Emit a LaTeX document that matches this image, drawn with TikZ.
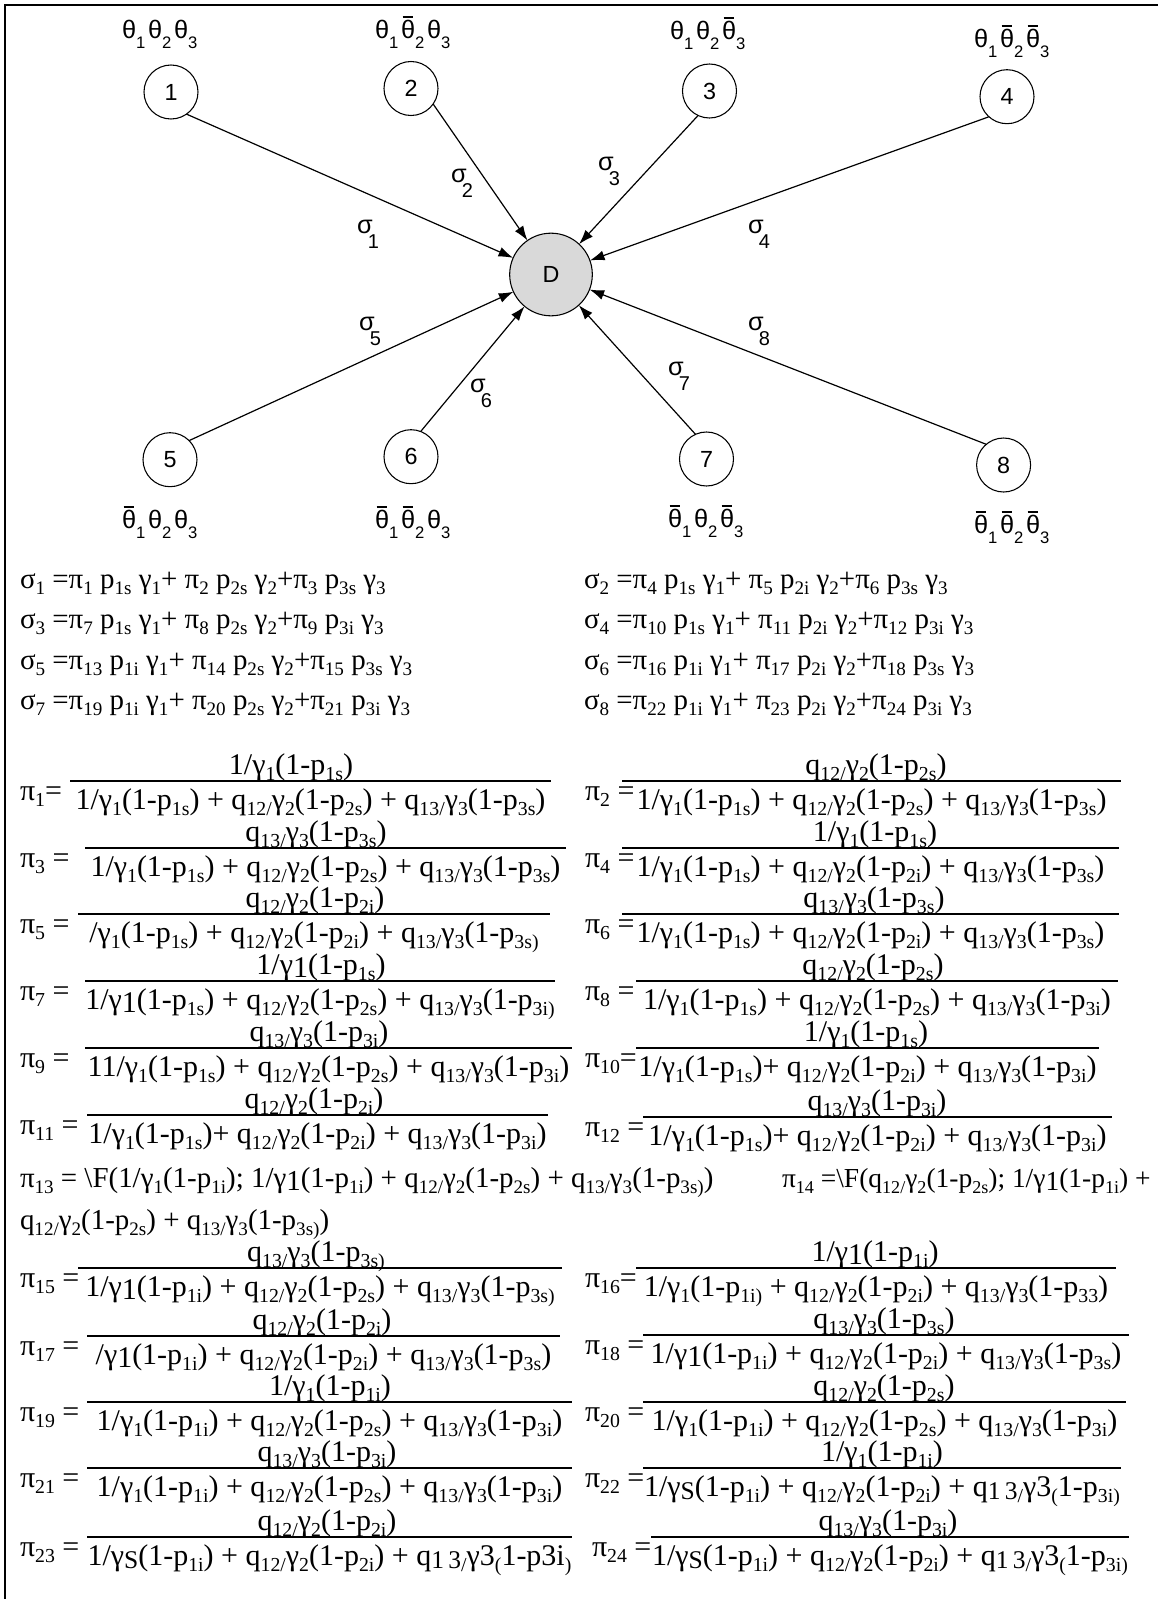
\documentclass[tikz,border=0pt]{standalone}
\usepackage{fontspec}
\setmainfont{Liberation Serif}
\newfontfamily\arialf{Liberation Sans}
\usepackage{graphicx}
\usetikzlibrary{arrows.meta,shapes.geometric}

% subscripts and odd-size glyphs of the equations
\newcommand\lo[1]{\raisebox{-0.22em}{\scalebox{0.66}{#1}}}
\newcommand\loo[1]{\raisebox{-0.12em}{#1}}
\newcommand\md[1]{\raisebox{-0.12em}{\scalebox{0.85}{#1}}}
\newcommand\Ga[1]{1/γ\lo{1}(1-p\lo{1#1})}
\newcommand\GA[1]{1/γ\loo{1}(1-p\lo{1#1})}
\newcommand\Gb[1]{q\lo{12/}γ\lo{2}(1-p\lo{2#1})}
\newcommand\Gc[1]{q\lo{13/}γ\lo{3}(1-p\lo{3#1})}
\newcommand\Gs{1/γ\md{S}(1-p\lo{1i})}
\newcommand\Gx{q\md{1\,3}\lo{/}γ3\lo{(}1-p3i\lo{)}}
\newcommand\Gy{q\md{1\,3}\lo{/}γ3\lo{(}1-p\lo{3i}\lo{)}}
% diagram labels
\newcommand\ts[1]{\raisebox{-7.5pt}{\fontsize{12.5}{12.5}\selectfont #1}}
\newcommand\tb{\leavevmode\rlap{\hspace{0.06em}\rule[0.78em]{0.42em}{0.09em}}θ}
\newcommand\sg[1]{σ\hspace{-3.5pt}\raisebox{-11.25pt}{\fontsize{15}{15}\selectfont #1}}
% fraction: name, label x, line y, x1, x2, label, numerator, denominator, numerator centre x
\newcommand\frc[9]{%
  \node[eq,anchor=base west] (#1l) at ({#2},{#3+19}) {#6};
  \draw[fl] ({#4},{#3}) -- ({#5},{#3});
  \node[eq,anchor=base] (#1n) at ({#9},{#3-7}) {#7};
  \node[eq,anchor=base] (#1d) at ({(#4+#5)/2},{#3+28}) {#8};}

\begin{document}
\begin{tikzpicture}[x=0.75pt,y=-0.75pt,
  every node/.style={inner sep=0pt,outer sep=0pt},
  eq/.style={font=\fontsize{22.5}{26}\selectfont},
  eqs/.style={font=\fontsize{21.7}{25}\selectfont},
  dg/.style={font=\arialf\fontsize{19}{22}\selectfont},
  state/.style={circle,draw,line width=0.8pt,minimum size=40.5pt,
    font=\arialf\fontsize{17.5}{20}\selectfont},
  dest/.style={circle,draw,line width=0.8pt,fill=black!15,
    minimum size=62pt,font=\arialf\fontsize{17.5}{20}\selectfont},
  arr/.style={line width=0.9pt,-{Latex[length=11pt,width=7.5pt]}},
  fl/.style={line width=0.8pt}]
\useasboundingbox (0,0) rectangle (1158,1599);
\draw[line width=1.8pt] (5,1599) -- (5,5) -- (1158,5);

% states
\node[state] (n1) at (171,92) {1};
\node[state] (n2) at (411,88.5) {2};
\node[state] (n3) at (709.5,91) {3};
\node[state] (n4) at (1007,96.7) {4};
\node[state] (n5) at (170,459.7) {5};
\node[state] (n6) at (411,456.7) {6};
\node[state] (n7) at (706.5,459) {7};
\node[state] (n8) at (1003.6,465) {8};
\node[dest] (D) at (551,274.5) {D};

% state labels
\node[dg,anchor=base west] (t1) at (122,38) {θ\ts{1}\hspace{2pt}θ\ts{2}\hspace{2pt}θ\ts{3}};
\node[dg,anchor=base west] (t2) at (375,38) {θ\ts{1}\hspace{2pt}\tb\ts{2}\hspace{2pt}θ\ts{3}};
\node[dg,anchor=base west] (t3) at (670,39) {θ\ts{1}\hspace{2pt}θ\ts{2}\hspace{2pt}\tb\ts{3}};
\node[dg,anchor=base west] (t4) at (974,47) {θ\ts{1}\hspace{2pt}\tb\ts{2}\hspace{2pt}\tb\ts{3}};
\node[dg,anchor=base west] (t5) at (122,528) {\tb\ts{1}\hspace{2pt}θ\ts{2}\hspace{2pt}θ\ts{3}};
\node[dg,anchor=base west] (t6) at (375,528) {\tb\ts{1}\hspace{2pt}\tb\ts{2}\hspace{2pt}θ\ts{3}};
\node[dg,anchor=base west] (t7) at (668,527) {\tb\ts{1}\hspace{2pt}θ\ts{2}\hspace{2pt}\tb\ts{3}};
\node[dg,anchor=base west] (t8) at (974,533) {\tb\ts{1}\hspace{2pt}\tb\ts{2}\hspace{2pt}\tb\ts{3}};

% connectors
\draw[arr] (n1.-55) -- (D);
\draw[arr] (n2.-35) -- (D);
\draw[arr] (n3.-115) -- (D);
\draw[arr] (n4.-132) -- (D);
\draw[arr] (n5.45) -- (D);
\draw[arr] (n6.69) -- (D);
\draw[arr] (n7.114) -- (D);
\draw[arr] (n8.130) -- (D);

% connector labels
\node[dg,anchor=base west] (s1) at (357,233) {\sg{1}};
\node[dg,anchor=base west] (s2) at (451,182) {\sg{2}};
\node[dg,anchor=base west] (s3) at (598,170) {\sg{3}};
\node[dg,anchor=base west] (s4) at (748,233) {\sg{4}};
\node[dg,anchor=base west] (s5) at (359,330) {\sg{5}};
\node[dg,anchor=base west] (s6) at (470,392) {\sg{6}};
\node[dg,anchor=base west] (s7) at (668,375) {\sg{7}};
\node[dg,anchor=base west] (s8) at (748,330) {\sg{8}};

% sigma equations
\node[eqs,anchor=base west] (e1) at (20,588) {σ\lo{1} =π\lo{1} p\lo{1s} γ\lo{1}+ π\lo{2} p\lo{2s} γ\lo{2}+π\lo{3} p\lo{3s} γ\lo{3}};
\node[eqs,anchor=base west] (e2) at (584,588) {σ\lo{2} =π\lo{4} p\lo{1s} γ\lo{1}+ π\lo{5} p\lo{2i} γ\lo{2}+π\lo{6} p\lo{3s} γ\lo{3}};
\node[eqs,anchor=base west] (e3) at (20,628.5) {σ\lo{3} =π\lo{7} p\lo{1s} γ\lo{1}+ π\lo{8} p\lo{2s} γ\lo{2}+π\lo{9} p\lo{3i} γ\lo{3}};
\node[eqs,anchor=base west] (e4) at (584,628.5) {σ\lo{4} =π\lo{10} p\lo{1s} γ\lo{1}+ π\lo{11} p\lo{2i} γ\lo{2}+π\lo{12} p\lo{3i} γ\lo{3}};
\node[eqs,anchor=base west] (e5) at (20,669) {σ\lo{5} =π\lo{13} p\lo{1i} γ\lo{1}+ π\lo{14} p\lo{2s} γ\lo{2}+π\lo{15} p\lo{3s} γ\lo{3}};
\node[eqs,anchor=base west] (e6) at (584,669) {σ\lo{6} =π\lo{16} p\lo{1i} γ\lo{1}+ π\lo{17} p\lo{2i} γ\lo{2}+π\lo{18} p\lo{3s} γ\lo{3}};
\node[eqs,anchor=base west] (e7) at (20,709.5) {σ\lo{7} =π\lo{19} p\lo{1i} γ\lo{1}+ π\lo{20} p\lo{2s} γ\lo{2}+π\lo{21} p\lo{3i} γ\lo{3}};
\node[eqs,anchor=base west] (e8) at (584,709.5) {σ\lo{8} =π\lo{22} p\lo{1i} γ\lo{1}+ π\lo{23} p\lo{2i} γ\lo{2}+π\lo{24} p\lo{3i} γ\lo{3}};

% pi fractions, left column
\frc{pa}{20}{781}{70}{551}{π\lo{1}=}{\Ga{s}}{\Ga{s} + \Gb{s} + \Gc{s}}{291}
\frc{pc}{20}{848}{85}{566}{π\lo{3} =}{\Gc{s}}{\Ga{s} + \Gb{s} + \Gc{s}}{316}
\frc{pe}{20}{914}{78}{550}{π\lo{5} =}{\Gb{i}}{/γ\lo{1}(1-p\lo{1s}) + \Gb{i} + q\lo{13/}γ\lo{3}(1-p\lo{3s}\lo{)}}{315}
\frc{pg}{20}{981}{85}{555}{π\lo{7} =}{\GA{s}}{\GA{s} + \Gb{s} + q\lo{13/}γ\lo{3}(1-p\lo{3i}\lo{)}}{321}
\frc{pi}{20}{1048}{85}{572}{π\lo{9} =}{\Gc{i}}{1\Ga{s} + \Gb{s} + \Gc{i}}{319}
\frc{pk}{20}{1115}{87}{548}{π\lo{11} =}{\Gb{i}}{\Ga{s}+ \Gb{i} + \Gc{i}}{314}
\frc{po}{20}{1268}{78}{562}{π\lo{15} =}{q\lo{13/}γ\lo{3}(1-p\lo{3s}\lo{)}}{\GA{i} + \Gb{s} + q\lo{13/}γ\lo{3}(1-p\lo{3s}\lo{)}}{316}
\frc{pq}{20}{1336}{87}{560}{π\lo{17} =}{\Gb{i}}{/γ\loo{1}(1-p\lo{1i}) + \Gb{i} + \Gc{s}}{322}
\frc{ps}{20}{1402}{87}{572}{π\lo{19} =}{\Ga{i}}{\Ga{i} + \Gb{s} + \Gc{i}}{330}
\frc{pu}{20}{1468}{87}{572}{π\lo{21} =}{\Gc{i}}{\Ga{i} + \Gb{s} + \Gc{i}}{327}
\frc{pw}{20}{1537}{87}{572}{π\lo{23} =}{\Gb{i}}{\Gs{} + \Gb{i} + \Gx}{327}

% pi fractions, right column
\frc{pb}{585}{781}{622}{1121}{π\lo{2} =}{\Gb{s}}{\Ga{s} + \Gb{s} + \Gc{s}}{876}
\frc{pd}{585}{848}{622}{1119}{π\lo{4} =}{\Ga{s}}{\Ga{s} + \Gb{i} + \Gc{s}}{875}
\frc{pf}{585}{914}{622}{1119}{π\lo{6} =}{\Gc{s}}{\Ga{s} + \Gb{i} + \Gc{s}}{874}
\frc{ph}{585}{981}{636}{1118}{π\lo{8} =}{\Gb{s}}{\Ga{s} + \Gb{s} + \Gc{i}}{873}
\frc{pj}{585}{1048}{636}{1099}{π\lo{10}=}{\Ga{s}}{\Ga{s}+ \Gb{i} + \Gc{i}}{866}
\frc{pl}{585}{1117}{643}{1112}{π\lo{12} =}{\Gc{i}}{\Ga{s}+ \Gb{i} + \Gc{i}}{877}
\frc{pp}{585}{1268}{636}{1116}{π\lo{16}=}{\GA{i}}{1/γ\lo{1}(1-p\lo{1i}\lo{)} + \Gb{i} + \Gc{3}}{875}
\frc{pr}{585}{1335}{643}{1129}{π\lo{18} =}{\Gc{s}}{\GA{i} + \Gb{i} + \Gc{s}}{884}
\frc{pt}{585}{1402}{643}{1126}{π\lo{20} =}{\Gb{s}}{\Ga{i} + \Gb{s} + \Gc{i}}{884}
\frc{pv}{585}{1468}{643}{1121}{π\lo{22} =}{\Ga{i}}{\Gs{} + \Gb{i} + \Gy}{882}
\frc{px}{592}{1537}{651}{1129}{π\lo{24} =}{\Gc{i}}{\Gs{} + \Gb{i} + \Gy}{888}

% pi 13 and pi 14 as plain text
\node[eqs,anchor=base west] (pm) at (20,1187) {π\lo{13} = \textbackslash F(1/γ\lo{1}(1-p\lo{1i}); \GA{i} + \Gb{s} + q\lo{13/}γ\lo{3}(1-p\lo{3s}\lo{)})};
\node[eqs,anchor=base west,font=\fontsize{20.6}{24}\selectfont] (pn) at (782,1187) {π\lo{14} =\textbackslash F(\Gb{s}; \GA{i} +};
\node[eqs,anchor=base west] (pn2) at (20,1229) {\Gb{s} + q\lo{13/}γ\lo{3}(1-p\lo{3s}\lo{)})};
\end{tikzpicture}
\end{document}
